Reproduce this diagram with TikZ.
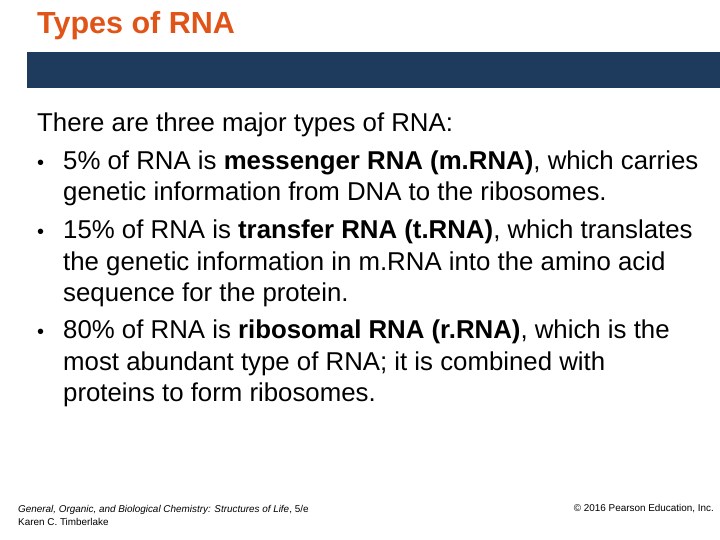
\documentclass[tikz,border=0pt]{standalone}
\usepackage{fontspec}
\setmainfont{Liberation Sans}
\definecolor{titleorange}{RGB}{224,84,24}
\definecolor{barblue}{RGB}{30,58,92}
\tikzset{
  bodyline/.style={anchor=base west, inner sep=0pt, font=\fontsize{25.8}{30}\selectfont},
  footline/.style={anchor=base west, inner sep=0pt, font=\fontsize{9.9}{12}\selectfont}
}
\begin{document}
\begin{tikzpicture}[x=1pt,y=-1pt]
\useasboundingbox (0,0) rectangle (720,540);
\fill[barblue] (27,52) rectangle (720,88);
\node[anchor=base west, inner sep=0pt, text=titleorange, font=\bfseries\fontsize{30.5}{34}\selectfont] (title) at (37,34) {Types of RNA};
% body text
\node[bodyline] (l0) at (37,132) {There are three major types of RNA:};
\node[bodyline, font=\fontsize{20}{24}\selectfont] (b1) at (37,170) {•};
\node[bodyline] (l1) at (63,170) {5\% of RNA is \textbf{messenger RNA (m.RNA)}, which carries};
\node[bodyline] (l2) at (63,201) {genetic information from DNA to the ribosomes.};
\node[bodyline, font=\fontsize{20}{24}\selectfont] (b2) at (37,238) {•};
\node[bodyline] (l3) at (63,238) {15\% of RNA is \textbf{transfer RNA (t.RNA)}, which translates};
\node[bodyline] (l4) at (63,270) {the genetic information in m.RNA into the amino acid};
\node[bodyline] (l5) at (63,301) {sequence for the protein.};
\node[bodyline, font=\fontsize{20}{24}\selectfont] (b3) at (37,338) {•};
\node[bodyline] (l6) at (63,338) {80\% of RNA is \textbf{ribosomal RNA (r.RNA)}, which is the};
\node[bodyline] (l7) at (63,370) {most abundant type of RNA; it is combined with};
\node[bodyline] (l8) at (63,401) {proteins to form ribosomes.};
% footer
\node[footline] (f1) at (18,512) {\textit{General, Organic, and Biological Chemistry: Structures of Life}, 5/e};
\node[footline] (f2) at (18,525) {Karen C. Timberlake};
\node[footline, anchor=base east] (f3) at (714,511) {© 2016 Pearson Education, Inc.};
\end{tikzpicture}
\end{document}
